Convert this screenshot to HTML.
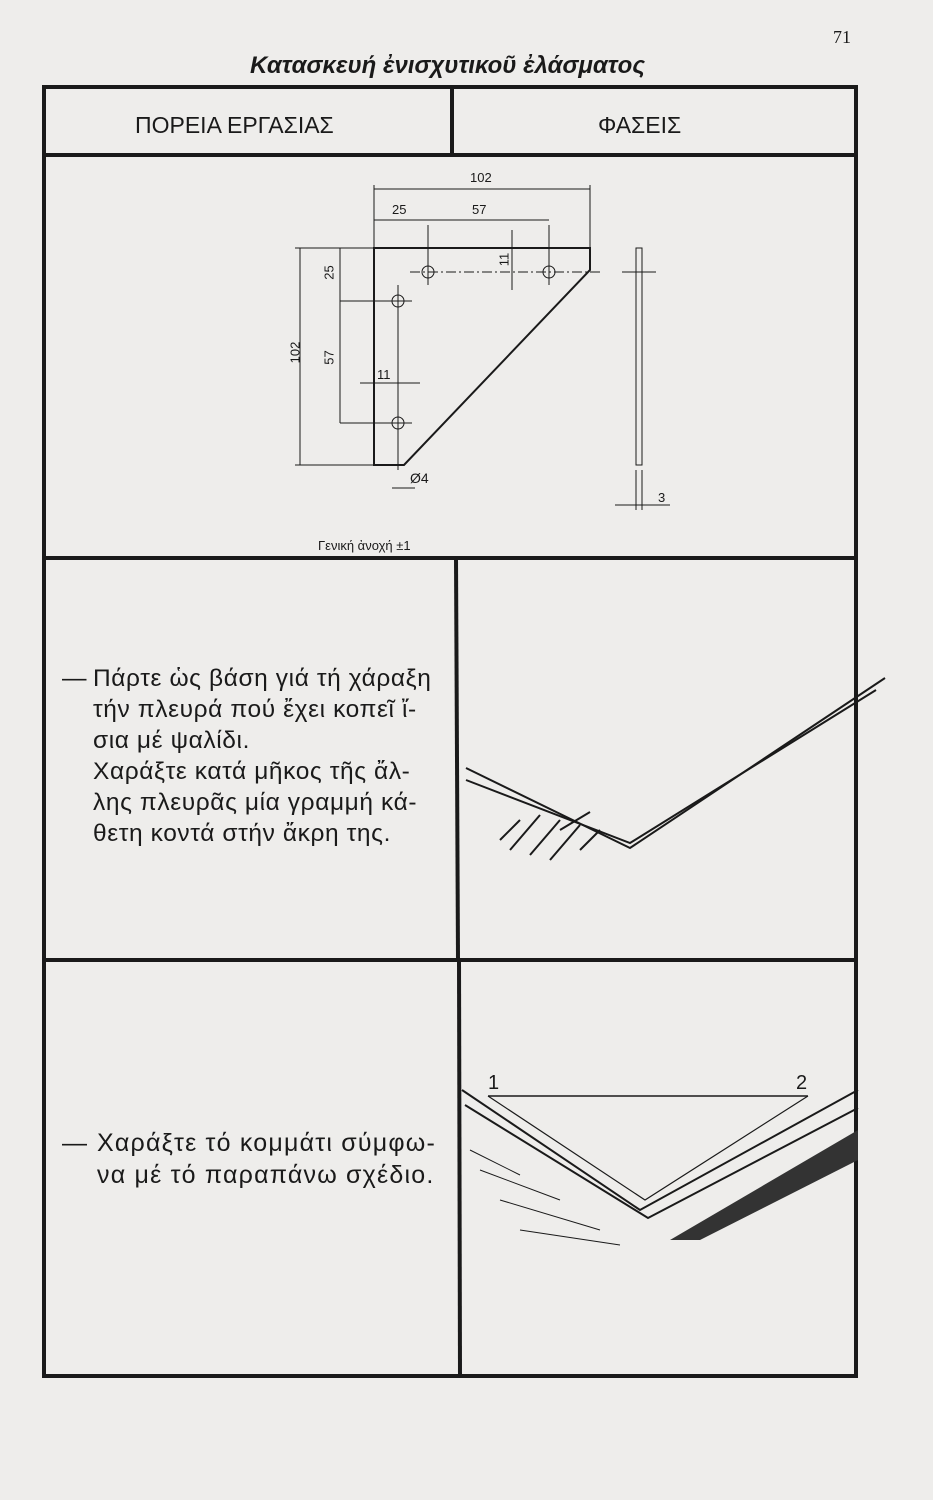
<!DOCTYPE html>
<html><head><meta charset="utf-8"><style>
html,body{margin:0;padding:0;background:#eeedeb;}
body{width:933px;height:1500px;position:relative;overflow:hidden;font-family:"Liberation Sans","DejaVu Sans",sans-serif;color:#1a1a1a;}
.t{position:absolute;white-space:nowrap;}
</style></head><body>
<svg width="933" height="1500" style="position:absolute;left:0;top:0" xmlns="http://www.w3.org/2000/svg">
<g stroke="#1a1a1a" fill="none">
<rect x="44" y="87" width="812" height="1289" stroke-width="4"/>
<line x1="44" y1="155" x2="856" y2="155" stroke-width="4"/>
<line x1="452" y1="87" x2="452" y2="155" stroke-width="4"/>
<line x1="44" y1="558" x2="856" y2="558" stroke-width="4"/>
<line x1="456" y1="558" x2="458" y2="960" stroke-width="4"/>
<line x1="44" y1="960" x2="856" y2="960" stroke-width="4"/>
<line x1="459" y1="960" x2="460" y2="1376" stroke-width="4"/>
<path d="M374 248 H590 V270 L404 465 H374 Z" stroke-width="2"/>
<g stroke-width="1">
<circle cx="428" cy="272" r="6"/><circle cx="549" cy="272" r="6"/>
<circle cx="398" cy="301" r="6"/><circle cx="398" cy="423" r="6"/>
<line x1="410" y1="272" x2="600" y2="272" stroke-dasharray="10 3 2 3"/>
<line x1="428" y1="225" x2="428" y2="285"/><line x1="549" y1="225" x2="549" y2="285"/>
<line x1="398" y1="285" x2="398" y2="470"/>
<line x1="340" y1="301" x2="412" y2="301"/><line x1="340" y1="423" x2="412" y2="423"/>
<line x1="374" y1="185" x2="374" y2="248"/><line x1="590" y1="185" x2="590" y2="248"/>
<line x1="374" y1="189" x2="590" y2="189"/>
<line x1="374" y1="220" x2="549" y2="220"/>
<line x1="295" y1="248" x2="374" y2="248"/><line x1="295" y1="465" x2="374" y2="465"/>
<line x1="300" y1="248" x2="300" y2="465"/>
<line x1="340" y1="248" x2="340" y2="423"/>
<line x1="512" y1="230" x2="512" y2="290"/>
<line x1="360" y1="383" x2="420" y2="383"/>
<line x1="392" y1="488" x2="415" y2="488"/>
<rect x="636" y="248" width="6" height="217"/>
<line x1="622" y1="272" x2="656" y2="272"/>
<line x1="636" y1="470" x2="636" y2="510"/><line x1="642" y1="470" x2="642" y2="510"/>
<line x1="615" y1="505" x2="670" y2="505"/>
</g>
<g stroke-width="2">
<path d="M466 768 L630 848 L885 678"/>
<path d="M466 780 L630 843 L876 690"/>
<path d="M500 840 L520 820 M510 850 L540 815 M530 855 L560 820 M550 860 L580 825 M580 850 L600 830 M560 830 L590 812" stroke-width="2"/>
</g>
<g stroke-width="2">
<path d="M462 1090 L640 1210 L858 1090"/>
<path d="M465 1105 L648 1218 L858 1108"/>
<line x1="488" y1="1096" x2="808" y2="1096" stroke-width="1.5"/>
<path d="M488 1096 L645 1200 L808 1096" stroke-width="1.2"/>
<path d="M670 1240 L858 1130 L858 1160 L700 1240 Z" fill="#333" stroke="none"/>
<path d="M470 1150 L520 1175 M480 1170 L560 1200 M500 1200 L600 1230 M520 1230 L620 1245" stroke-width="1"/>
</g>
</g>
</svg>
<div class="t" style="left:833px;top:27px;font-family:'Liberation Serif',serif;font-size:18px">71</div>
<div class="t" style="left:250px;top:52px;font-size:24px;font-style:italic;font-weight:bold">Κατασκευή ἐνισχυτικοῦ ἐλάσματος</div>
<div class="t" style="left:135px;top:112px;font-size:23px">ΠΟΡΕΙΑ ΕΡΓΑΣΙΑΣ</div>
<div class="t" style="left:598px;top:112px;font-size:23px">ΦΑΣΕΙΣ</div>
<div class="t" style="left:470px;top:170px;font-size:13px">102</div>
<div class="t" style="left:392px;top:202px;font-size:13px">25</div>
<div class="t" style="left:472px;top:202px;font-size:13px">57</div>
<div class="t" style="left:284px;top:345px;font-size:13px;transform:rotate(-90deg)">102</div>
<div class="t" style="left:322px;top:265px;font-size:13px;transform:rotate(-90deg)">25</div>
<div class="t" style="left:322px;top:350px;font-size:13px;transform:rotate(-90deg)">57</div>
<div class="t" style="left:497px;top:252px;font-size:13px;transform:rotate(-90deg)">11</div>
<div class="t" style="left:377px;top:367px;font-size:13px">11</div>
<div class="t" style="left:410px;top:470px;font-size:14px">Ø4</div>
<div class="t" style="left:658px;top:490px;font-size:13px">3</div>
<div class="t" style="left:318px;top:538px;font-size:13px">Γενική ἀνοχή ±1</div>
<div class="t" style="left:62px;top:663px;font-size:24.5px;line-height:31px;letter-spacing:0.6px">—</div>
<div class="t" style="left:93px;top:663px;font-size:24.5px;line-height:31px;letter-spacing:0.6px">Πάρτε ὡς βάση γιά τή χάραξη<br>τήν πλευρά πού ἔχει κοπεῖ ἴ-<br>σια μέ ψαλίδι.<br>Χαράξτε κατά μῆκος τῆς ἄλ-<br>λης πλευρᾶς μία γραμμή κά-<br>θετη κοντά στήν ἄκρη της.</div>
<div class="t" style="left:62px;top:1127px;font-size:25px;line-height:32px;letter-spacing:1.2px">—</div>
<div class="t" style="left:97px;top:1127px;font-size:25px;line-height:32px;letter-spacing:1.2px">Χαράξτε τό κομμάτι σύμφω-<br>να μέ τό παραπάνω σχέδιο.</div>
<div class="t" style="left:488px;top:1072px;font-size:20px">1</div>
<div class="t" style="left:796px;top:1072px;font-size:20px">2</div>
</body></html>
